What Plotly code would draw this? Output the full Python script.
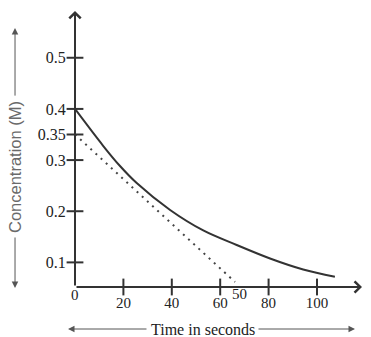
import plotly.graph_objects as go

# ---- data ----
time_s = [0, 11.7, 18.6, 25.5, 39.3, 53.0, 66.8, 80.6, 94.3, 107.4]
conc_M = [0.40, 0.3275, 0.2884, 0.2551, 0.2024, 0.1624, 0.1340, 0.1076, 0.0861, 0.0720]

tangent_t = [0, 66.1]
tangent_c = [0.35, 0.0617]
tangent_label = "50"

y_ticks = [0.1, 0.2, 0.3, 0.35, 0.4, 0.5]
y_ticklabels = ["0.1", "0.2", "0.3", "0.35", "0.4", "0.5"]
x_ticks = [20, 40, 60, 80, 100]
x_ticklabels = ["20", "40", "60", "80", "100"]
origin_label = "0"

x_range = [0, 118.6]
y_range = [0.0519, 0.5914]

AX = "#333333"
SERIF = "Liberation Serif, Times New Roman, serif"

fig = go.Figure()

# curve
fig.add_trace(go.Scatter(x=time_s, y=conc_M, mode="lines",
                         line=dict(color=AX, width=2, shape="spline", smoothing=1.0),
                         hoverinfo="skip", showlegend=False))
# tangent (dotted)
fig.add_trace(go.Scatter(x=tangent_t, y=tangent_c, mode="lines",
                         line=dict(color="#444444", width=2, dash="2px,5px"),
                         hoverinfo="skip", showlegend=False))
# cross tick marks on y axis
fig.add_trace(go.Scatter(x=[0] * len(y_ticks), y=y_ticks, mode="markers",
                         marker=dict(symbol="line-ew", size=12, line=dict(color=AX, width=2)),
                         cliponaxis=False, hoverinfo="skip", showlegend=False))
# cross tick marks on x axis
fig.add_trace(go.Scatter(x=x_ticks, y=[y_range[0]] * len(x_ticks), mode="markers",
                         marker=dict(symbol="line-ns", size=12, line=dict(color=AX, width=2)),
                         cliponaxis=False, hoverinfo="skip", showlegend=False))

annotations = [
    # axes with arrowheads
    dict(x=0, y=y_range[1], xref="x", yref="y", ax=0, ay=y_range[0], axref="x", ayref="y",
         text="", showarrow=True, arrowhead=4, arrowsize=1.1, arrowwidth=2, arrowcolor=AX),
    dict(x=x_range[1], y=y_range[0], xref="x", yref="y", ax=0, ay=y_range[0], axref="x", ayref="y",
         text="", showarrow=True, arrowhead=4, arrowsize=1.1, arrowwidth=2, arrowcolor=AX),
    # origin label and tangent intercept label
    dict(x=0, y=-0.029, xref="x", yref="paper", text=origin_label, showarrow=False,
         font=dict(family=SERIF, size=15, color="#222"), xanchor="center", yanchor="middle"),
    dict(x=tangent_t[1] + 2, y=-0.025, xref="x", yref="paper", text=tangent_label, showarrow=False,
         font=dict(family=SERIF, size=15, color="#222"), xanchor="center", yanchor="middle"),
    # y title with arrows
    dict(x=-0.209, y=0.4348, xref="paper", yref="paper", text="Concentration (M)", textangle=-90,
         showarrow=False, font=dict(family="Liberation Sans, Arial, sans-serif", size=16.5, color="#6a6a6a"),
         xanchor="center", yanchor="middle"),
    dict(x=-0.209, y=0.938, xref="paper", yref="paper", ax=0, ay=69, text="", showarrow=True,
         arrowhead=2, arrowsize=1.3, arrowwidth=1, arrowcolor="#555"),
    dict(x=-0.209, y=-0.0036, xref="paper", yref="paper", ax=0, ay=-52, text="", showarrow=True,
         arrowhead=2, arrowsize=1.3, arrowwidth=1, arrowcolor="#555"),
    # x title with arrows
    dict(x=0.4443, y=-0.1522, xref="paper", yref="paper", text="Time in seconds", showarrow=False,
         font=dict(family=SERIF, size=16, color="#222"), xanchor="center", yanchor="middle"),
    dict(x=-0.0244, y=-0.1522, xref="paper", yref="paper", ax=80, ay=0, text="", showarrow=True,
         arrowhead=2, arrowsize=1.3, arrowwidth=1, arrowcolor="#555"),
    dict(x=0.9756, y=-0.1522, xref="paper", yref="paper", ax=-98, ay=0, text="", showarrow=True,
         arrowhead=2, arrowsize=1.3, arrowwidth=1, arrowcolor="#555"),
]

fig.update_layout(
    width=371, height=337,
    margin=dict(l=75, r=9, t=11, b=50),
    paper_bgcolor="white", plot_bgcolor="white",
    showlegend=False,
    annotations=annotations,
    xaxis=dict(range=x_range, showgrid=False, zeroline=False, showline=False,
               tickmode="array", tickvals=x_ticks, ticktext=x_ticklabels,
               ticks="outside", ticklen=2, tickcolor="rgba(0,0,0,0)",
               tickfont=dict(family=SERIF, size=15, color="#222")),
    yaxis=dict(range=y_range, showgrid=False, zeroline=False, showline=False,
               tickmode="array", tickvals=y_ticks, ticktext=y_ticklabels,
               ticks="outside", ticklen=5, tickcolor="rgba(0,0,0,0)",
               tickfont=dict(family=SERIF, size=16, color="#222")),
)

fig.write_html("out.html")
